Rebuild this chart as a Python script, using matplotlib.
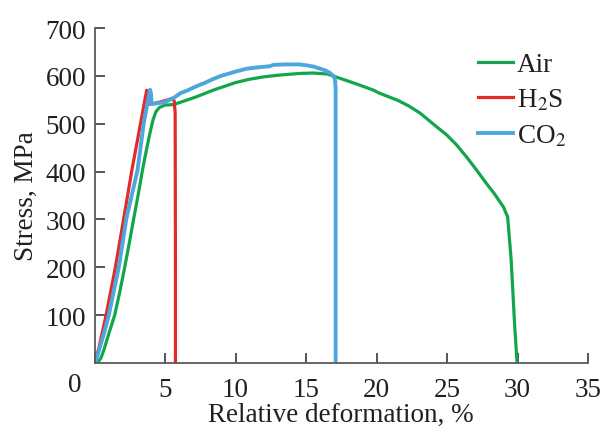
import numpy as np
import matplotlib as mpl
mpl.use('Agg')
import matplotlib.pyplot as plt

# stress-strain curves, strain in %, stress in MPa
air_x = [0, 0.2, 0.45, 0.66, 1.0, 1.43, 1.8, 2.14, 2.5, 2.78, 3.1, 3.4, 3.7, 3.95, 4.15, 4.35,
         4.6, 5.0, 5.6, 6.1, 6.6, 7.2, 7.8, 8.4, 9.0, 10.0, 11.0, 12.0, 13.2, 14.5, 15.5, 16.5,
         17.4, 18.5, 19.8, 20.2, 21.5, 22.3, 23.1, 24.0, 25.0, 25.7, 26.4, 27.1, 27.8, 28.4,
         29.0, 29.3, 29.55, 29.8, 29.97]
air_y = [0, 0, 10, 27, 60, 100, 150, 200, 256, 302, 352, 403, 448, 483, 508, 525,
         534, 539, 540, 545, 550, 556, 563, 570, 576, 586, 593, 598, 602, 605, 606, 604,
         595, 584, 570, 564, 549, 537, 522, 500, 476, 455, 430, 403, 375, 352,
         326, 305, 215, 76, 0]

h2s_x = [0, 0.3, 0.82, 1.48, 2.07, 2.65, 3.28, 3.70, 3.85, 4.3, 4.73, 5.2, 5.5, 5.65, 5.72, 5.74, 5.74]
h2s_y = [0, 30, 100, 200, 302, 403, 503, 570, 541, 543, 546, 550, 553, 548, 523, 200, 0]

co2_x = [0, 0.1, 0.4, 0.7, 1.01, 1.72, 2.26, 3.05, 3.5, 3.94, 4.0, 4.05, 4.5, 4.97, 5.67, 6.1,
         6.62, 7.2, 7.79, 8.46, 8.97, 10.0, 10.8, 11.6, 12.4, 12.7, 13.5, 14.5, 15.06, 15.6,
         16.0, 16.4, 16.7, 16.9, 17.05, 17.1, 17.1]
co2_y = [0, 5, 35, 65, 100, 200, 302, 403, 503, 571, 564, 541, 543, 545, 555, 564,
         570, 578, 585, 594, 600, 609, 615, 618, 620, 623, 624, 624, 622, 619,
         615, 611, 606, 601, 594, 574, 0]

x_ticks = [0, 5, 10, 15, 20, 25, 30, 35]
y_ticks = [100, 200, 300, 400, 500, 600, 700]

plt.rcParams['font.family'] = ['Liberation Serif', 'DejaVu Serif']
plt.rcParams['mathtext.fontset'] = 'stix'
txt = '#231f20'
fs = 19.5

fig = plt.figure(figsize=(6.02, 4.27), dpi=100)
ax = fig.add_axes([0.157, 0.1475, 0.8198, 0.7845])

ax.plot(air_x, air_y, color='#12a54a', lw=2.3, label='Air', solid_joinstyle='round')
ax.plot(h2s_x, h2s_y, color='#e3292a', lw=2.3, label='H$_2$S', solid_joinstyle='round')
ax.plot(co2_x, co2_y, color='#4ea7dc', lw=2.8, label='CO$_2$', solid_joinstyle='round')

ax.set_xlim(0, 35)
ax.set_ylim(0, 700)
ax.set_xticks(x_ticks)
ax.set_xticklabels(['' if t == 0 else str(t) for t in x_ticks])
ax.set_yticks(y_ticks)
ax.annotate('0', xy=(0, 0), xytext=(-20, -21), textcoords='offset pixels',
            ha='center', va='center', fontsize=fs, color=txt)

for s in ['top', 'right']:
    ax.spines[s].set_visible(False)
for s in ['left', 'bottom']:
    ax.spines[s].set_color('#5a5a5a')
    ax.spines[s].set_linewidth(1.3)
ax.tick_params(direction='in', length=7, width=1.2, color='#3a3a3a',
               labelsize=fs, labelcolor=txt, pad=6)
ax.tick_params(axis='x', pad=10)

ax.set_xlabel('Relative deformation, %', fontsize=fs, color=txt, labelpad=0)
ax.set_ylabel('Stress, MPa', fontsize=fs, color=txt, labelpad=5)

ax.legend(loc='upper left', bbox_to_anchor=(0.727, 1.0), frameon=False, fontsize=fs,
          handlelength=1.3, handletextpad=0.15, labelspacing=0.36, labelcolor=txt)

fig.savefig('out.png', dpi=100)
